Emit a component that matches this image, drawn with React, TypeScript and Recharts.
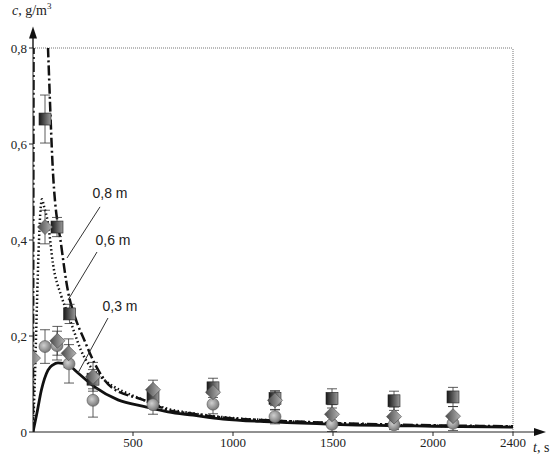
import { ComposedChart, Line, Scatter, XAxis, YAxis, ErrorBar, ReferenceLine, ReferenceDot } from 'recharts';

// model curves, t in s, c in g/m3
const curve08T = [0, 8, 75, 100, 142, 175, 210, 258, 308, 390, 558, 675, 800, 950, 1200, 1500, 2000, 2400];
const curve08C = [0, 1.6, 0.8, 0.54, 0.386, 0.293, 0.24, 0.19, 0.143, 0.094, 0.066, 0.046, 0.038, 0.03, 0.024, 0.019, 0.014, 0.012];

const curve06T = [0, 10, 20, 30, 38, 45, 55, 75, 100, 140, 175, 208, 240, 275, 330, 390, 475, 558, 675, 800, 950, 1200, 1500, 2000, 2400];
const curve06C = [0, 0.12, 0.27, 0.4, 0.465, 0.485, 0.47, 0.435, 0.35, 0.285, 0.245, 0.206, 0.17, 0.143, 0.118, 0.098, 0.08, 0.066, 0.048, 0.039, 0.031, 0.024, 0.018, 0.013, 0.011];

const curve03T = [0, 20, 42, 75, 100, 125, 175, 225, 308, 425, 558, 675, 800, 950, 1200, 1500, 2000, 2400];
const curve03C = [0, 0.04, 0.0875, 0.129, 0.14, 0.144, 0.14, 0.123, 0.094, 0.067, 0.053, 0.042, 0.035, 0.027, 0.021, 0.016, 0.012, 0.01];

// measurements
const sqT = [60, 120, 183, 300, 600, 900, 1210, 1495, 1805, 2100];
const sqC = [0.652, 0.427, 0.246, 0.11, 0.073, 0.092, 0.07, 0.07, 0.065, 0.073];
const sqErr = [0.05, 0.02, 0.02, 0.02, 0.02, 0.02, 0.015, 0.02, 0.02, 0.02];

const diT = [0, 60, 122, 178, 300, 600, 900, 1210, 1495, 1805, 2100];
const diC = [0.154, 0.427, 0.19, 0.164, 0.115, 0.088, 0.083, 0.066, 0.037, 0.032, 0.033];
const diErr = [0, 0.035, 0.03, 0.03, 0.03, 0.02, 0.02, 0.02, 0.02, 0.02, 0.02];

const ciT = [60, 120, 180, 300, 600, 900, 1210, 1495, 1805, 2100];
const ciC = [0.178, 0.18, 0.142, 0.066, 0.057, 0.058, 0.032, 0.016, 0.015, 0.018];
const ciErr = [0.035, 0.03, 0.04, 0.035, 0.02, 0.02, 0.015, 0.015, 0.01, 0.015];

const xTicks = [500, 1000, 1500, 2000, 2400];
const yTicks = [0, 0.2, 0.4, 0.6, 0.8];

const toLine = (ts: number[], cs: number[]) => ts.map((t, i) => ({ t, c: cs[i] }));
const toPts = (ts: number[], cs: number[], es: number[]) => ts.map((t, i) => ({ t, c: cs[i], e: es[i] }));

const serif = '"Liberation Serif", "DejaVu Serif", serif';
const sans = '"Liberation Sans", Arial, sans-serif';
const tickStyle = { fontFamily: serif, fontSize: 13, fill: '#222', style: { fontFamily: serif } };

const Square = (p: any) => (
  <rect x={p.cx - 6} y={p.cy - 6} width={12} height={12} fill="url(#sqGrad)" stroke="#222" strokeWidth={0.6} />
);
const Diamond = (p: any) => (
  <polygon
    points={`${p.cx},${p.cy - 7.5} ${p.cx + 7.5},${p.cy} ${p.cx},${p.cy + 7.5} ${p.cx - 7.5},${p.cy}`}
    fill="url(#diGrad)" stroke="#444" strokeWidth={0.6}
  />
);
const Circle = (p: any) => (
  <circle cx={p.cx} cy={p.cy} r={6} fill="url(#ciGrad)" stroke="#555" strokeWidth={0.6} />
);

const fmtY = (v: number) => (v === 0 ? '0' : v.toFixed(1).replace('.', ','));

const note = (text: string) => (p: any) => (
  <text x={p.cx} y={p.cy} textAnchor="middle" dominantBaseline="central" style={{ fontFamily: sans }} fontSize={14} fill="#222">
    {text}
  </text>
);

export default function App() {
  return (
    <div style={{ position: 'absolute', left: 0, top: 0, background: '#fff', fontFamily: serif }}>
      <ComposedChart width={554} height={462} margin={{ top: 48, right: 41, bottom: 0, left: 0 }}>
        <defs>
          <linearGradient id="sqGrad" x1="0" y1="0" x2="1" y2="0">
            <stop offset="0%" stopColor="#1a1a1a" />
            <stop offset="100%" stopColor="#9a9a9a" />
          </linearGradient>
          <linearGradient id="diGrad" x1="0" y1="0" x2="1" y2="0">
            <stop offset="0%" stopColor="#4a4a4a" />
            <stop offset="100%" stopColor="#b5b5b5" />
          </linearGradient>
          <radialGradient id="ciGrad" cx="40%" cy="40%" r="60%">
            <stop offset="0%" stopColor="#d0d0d0" />
            <stop offset="100%" stopColor="#7a7a7a" />
          </radialGradient>
        </defs>
        <XAxis
          type="number" dataKey="t" domain={[0, 2400]} ticks={xTicks} allowDataOverflow
          height={30} axisLine={{ stroke: '#222' }} tickLine={{ stroke: '#222' }} tickSize={4}
          tick={tickStyle}
        />
        <YAxis
          type="number" dataKey="c" domain={[0, 0.8]} ticks={yTicks} allowDataOverflow
          width={33} axisLine={{ stroke: '#222' }} tickLine={{ stroke: '#222' }} tickSize={4}
          tickFormatter={fmtY} tick={tickStyle}
        />
        <ReferenceLine y={0.8} stroke="#777" strokeDasharray="1 1" />
        <ReferenceLine x={2400} stroke="#777" strokeDasharray="1 1" />
        <ReferenceLine segment={[{ x: 0, y: 0.8 }, { x: 0, y: 0.83 }]} stroke="#222" strokeWidth={1.5} ifOverflow="visible" />
        <ReferenceLine segment={[{ x: 2400, y: 0 }, { x: 2540, y: 0 }]} stroke="#222" ifOverflow="visible" />
        <ReferenceDot
          x={0} y={0.845} r={0} ifOverflow="visible"
          shape={(p: any) => (
            <g>
              <polygon points={`${p.cx},${p.cy} ${p.cx - 4},${p.cy + 12} ${p.cx + 4},${p.cy + 12}`} fill="#111" />
              <text x={p.cx - 21} y={p.cy - 11} style={{ fontFamily: serif }} fontSize={14} fill="#222">
                <tspan fontStyle="italic">c</tspan>, g/m<tspan fontSize={9} dy={-6}>3</tspan>
              </text>
            </g>
          )}
        />
        <ReferenceDot
          x={2565} y={0} r={0} ifOverflow="visible"
          shape={(p: any) => (
            <g>
              <polygon points={`${p.cx},${p.cy} ${p.cx - 12},${p.cy - 4} ${p.cx - 12},${p.cy + 4}`} fill="#111" />
              <text x={p.cx - 13} y={p.cy + 20} style={{ fontFamily: serif }} fontSize={14} fill="#222">
                <tspan fontStyle="italic">t</tspan>, s
              </text>
            </g>
          )}
        />
        <Line data={toLine(curve03T, curve03C)} dataKey="c" type="monotone" stroke="#111" strokeWidth={2.8} dot={false} isAnimationActive={false} />
        <Line data={toLine(curve06T, curve06C)} dataKey="c" type="monotone" stroke="#111" strokeWidth={2.5} strokeDasharray="1.5 2.5" dot={false} isAnimationActive={false} />
        <Line data={toLine(curve08T, curve08C)} dataKey="c" type="monotone" stroke="#111" strokeWidth={2.5} strokeDasharray="10 3 2 3" dot={false} isAnimationActive={false} />
        <ReferenceLine segment={[{ x: 335, y: 0.469 }, { x: 170, y: 0.3625 }]} stroke="#333" />
        <ReferenceLine segment={[{ x: 320, y: 0.375 }, { x: 175, y: 0.275 }]} stroke="#333" />
        <ReferenceLine segment={[{ x: 375, y: 0.2375 }, { x: 225, y: 0.123 }]} stroke="#333" />
        <ReferenceDot x={385} y={0.498} r={0} shape={note('0,8 m')} />
        <ReferenceDot x={400} y={0.4} r={0} shape={note('0,6 m')} />
        <ReferenceDot x={435} y={0.2625} r={0} shape={note('0,3 m')} />
        <Scatter data={toPts(sqT, sqC, sqErr)} dataKey="c" shape={Square} isAnimationActive={false}>
          <ErrorBar dataKey="e" direction="y" width={5} stroke="#333" strokeWidth={0.8} />
        </Scatter>
        <Scatter data={toPts(ciT, ciC, ciErr)} dataKey="c" shape={Circle} isAnimationActive={false}>
          <ErrorBar dataKey="e" direction="y" width={5} stroke="#333" strokeWidth={0.8} />
        </Scatter>
        <Scatter data={toPts(diT, diC, diErr)} dataKey="c" shape={Diamond} isAnimationActive={false}>
          <ErrorBar dataKey="e" direction="y" width={5} stroke="#333" strokeWidth={0.8} />
        </Scatter>
      </ComposedChart>
    </div>
  );
}
